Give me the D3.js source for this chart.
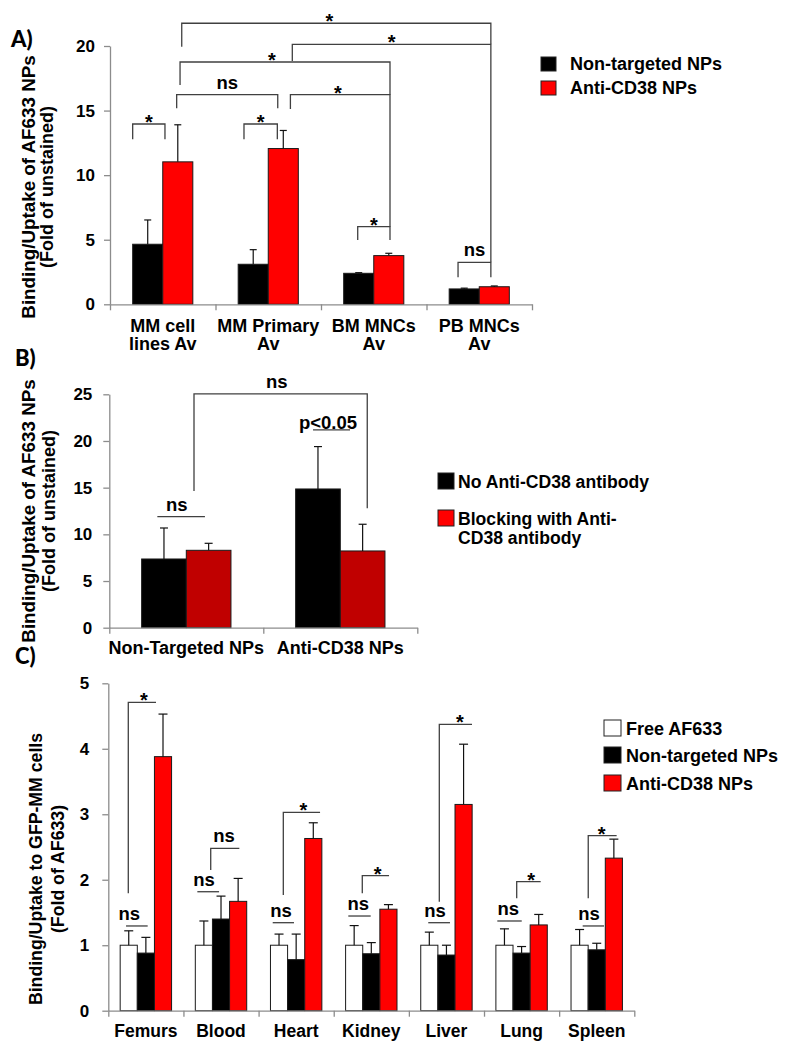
<!DOCTYPE html>
<html><head><meta charset="utf-8">
<script src="https://cdn.jsdelivr.net/npm/d3@7"></script>
<style>
body{margin:0;background:#fff}
text{font-family:"Liberation Sans",Arial,sans-serif;font-weight:bold;fill:#000}
</style>
</head><body><svg id="c" width="788" height="1050"></svg>
<script>
// ---------- DATA ----------
// Panel A
const catsA = [["MM cell","lines Av"],["MM Primary","Av"],["BM MNCs","Av"],["PB MNCs","Av"]];
const seriesA = ["Non-targeted NPs","Anti-CD38 NPs"];
const ntA = [4.65, 3.10, 2.40, 1.19];
const ntErrA = [1.88, 1.13, 0.05, 0.06];
const cd38A = [11.03, 12.06, 3.77, 1.36];
const cd38ErrA = [2.87, 1.40, 0.18, 0.06];
const ticksA = [0, 5, 10, 15, 20];
// significance brackets: x in category units, y / leg ends in value units
const sigA = [
  {x1:0.215, x2:0.521, y:13.96, l1:12.78, l2:12.78, label:"*"},
  {x1:1.270, x2:1.586, y:13.96, l1:12.78, l2:12.78, label:"*"},
  {x1:0.632, x2:1.590, y:16.23, l1:15.18, l2:15.18, label:"ns"},
  {x1:1.710, x2:2.654, y:16.23, l1:15.12, l2:6.01, label:"*", lx:2.16},
  {x1:2.348, x2:2.654, y:6.01, l1:4.98, l2:4.98, label:"*"},
  {x1:0.664, x2:2.654, y:18.76, l1:16.98, l2:16.23, label:"*", lx:1.535},
  {x1:1.728, x2:3.610, y:20.13, l1:18.84, l2:3.25, label:"*"},
  {x1:0.680, x2:3.610, y:21.76, l1:19.95, l2:20.13, label:"*", lx:2.08},
  {x1:3.299, x2:3.610, y:3.25, l1:2.09, l2:2.09, label:"ns"}
];
// Panel B
const catsB = [["Non-Targeted NPs"],["Anti-CD38 NPs"]];
const seriesB = ["No Anti-CD38 antibody","Blocking with Anti-CD38 antibody"];
const noAbB = [7.36, 14.86];
const noAbErrB = [3.32, 4.54];
const blockB = [8.29, 8.22];
const blockErrB = [0.75, 2.86];
const ticksB = [0, 5, 10, 15, 20, 25];
const sigB = [
  {x1:0.550, x2:1.675, y:25.04, l1:14.65, l2:12.79, label:"ns", lx:1.087},
  {x1:0.312, x2:0.621, y:11.89, l1:null, l2:null, label:"ns", lx:0.438},
  {x1:1.323, x2:1.563, y:21.18, l1:null, l2:null, label:"p<0.05", lx:1.42}
];
// Panel C
const catsC = [["Femurs"],["Blood"],["Heart"],["Kidney"],["Liver"],["Lung"],["Spleen"]];
const seriesC = ["Free AF633","Non-targeted NPs","Anti-CD38 NPs"];
const freeC = [1, 1, 1, 1, 1, 1, 1];
const freeErrC = [0.22, 0.37, 0.17, 0.30, 0.20, 0.25, 0.24];
const ntC = [0.88, 1.40, 0.78, 0.87, 0.85, 0.88, 0.93];
const ntErrC = [0.24, 0.35, 0.39, 0.17, 0.15, 0.10, 0.10];
const cd38C = [3.88, 1.67, 2.63, 1.55, 3.15, 1.31, 2.33];
const cd38ErrC = [0.65, 0.35, 0.24, 0.07, 0.92, 0.16, 0.29];
const ticksC = [0, 1, 2, 3, 4, 5];
const sigC = [
  {x1:0.236, x2:0.524, y:1.294, l1:null, l2:null, label:"ns", lx:0.28},
  {x1:0.266, x2:0.635, y:4.71, l1:1.793, l2:null, label:"*", lx:0.475},
  {x1:1.185, x2:1.474, y:1.817, l1:null, l2:null, label:"ns", lx:1.274},
  {x1:1.363, x2:1.744, y:2.48, l1:2.149, l2:null, label:"ns", lx:1.54},
  {x1:2.188, x2:2.471, y:1.344, l1:null, l2:null, label:"ns", lx:2.298},
  {x1:2.329, x2:2.818, y:3.03, l1:1.767, l2:null, label:"*", lx:2.595},
  {x1:3.194, x2:3.492, y:1.446, l1:null, l2:null, label:"ns", lx:3.327},
  {x1:3.380, x2:3.736, y:2.062, l1:1.793, l2:null, label:"*", lx:3.585},
  {x1:4.258, x2:4.547, y:1.344, l1:null, l2:null, label:"ns", lx:4.347},
  {x1:4.405, x2:4.840, y:4.374, l1:1.665, l2:null, label:"*", lx:4.68},
  {x1:5.177, x2:5.502, y:1.37, l1:null, l2:null, label:"ns", lx:5.323},
  {x1:5.435, x2:5.754, y:1.97, l1:1.717, l2:null, label:"*", lx:5.626},
  {x1:6.313, x2:6.597, y:1.294, l1:null, l2:null, label:"ns", lx:6.397},
  {x1:6.387, x2:6.765, y:2.673, l1:1.717, l2:null, label:"*", lx:6.565}
];

// ---------- DRAWING ----------
const svg = d3.select("#c");
const AX = "#8c8c8c", BR = "#404040";

function panel(cfg){
  const g = svg.append("g");
  const n = cfg.cats.length;
  const y = d3.scaleLinear().domain([0, d3.max(cfg.ticks)]).range([cfg.yB, cfg.yT]);
  const xb = d3.scaleBand().domain(d3.range(n)).range([cfg.x0, cfg.x1]);
  const bw = xb.bandwidth();
  const xi = d3.scaleBand().domain(d3.range(cfg.values.length)).range([bw*cfg.pad, bw*(1-cfg.pad)]);
  const xc = d3.scaleLinear().domain([0, n]).range([cfg.x0, cfg.x1]);

  cfg.values.forEach((vals, s) => {
    g.selectAll(null).data(vals).enter().append("rect")
      .attr("x", (d,i) => xb(i) + xi(s))
      .attr("y", d => y(d))
      .attr("width", xi.bandwidth())
      .attr("height", d => y(0) - y(d))
      .attr("fill", cfg.colors[s])
      .attr("stroke", "#1a1a1a").attr("stroke-width", 1);
    const errs = cfg.errors[s];
    vals.forEach((v, i) => {
      const cx = xb(i) + xi(s) + xi.bandwidth()/2;
      g.append("line").attr("x1", cx).attr("x2", cx)
        .attr("y1", y(v)).attr("y2", y(v + errs[i]))
        .attr("stroke", "#111").attr("stroke-width", 1.2);
      g.append("line").attr("x1", cx - cfg.cap).attr("x2", cx + cfg.cap)
        .attr("y1", y(v + errs[i])).attr("y2", y(v + errs[i]))
        .attr("stroke", "#111").attr("stroke-width", 1.2);
    });
  });

  const ya = g.append("g").attr("transform", `translate(${cfg.x0},0)`)
    .call(d3.axisLeft(y).tickValues(cfg.ticks).tickFormat(d3.format("d"))
      .tickSize(6).tickSizeOuter(0).tickPadding(cfg.tickPad));
  ya.selectAll("path,line").attr("stroke", AX).attr("stroke-width", 1.3);
  ya.selectAll("text").attr("font-size", 17).attr("fill", "#000")
    .style("font-family", '"Liberation Sans",Arial,sans-serif').style("font-weight", "bold");
  const xa = g.append("g").attr("transform", `translate(0,${cfg.yB})`)
    .call(d3.axisBottom(xc).tickValues(d3.range(n+1)).tickFormat("").tickSize(6).tickSizeOuter(0));
  xa.selectAll("path,line").attr("stroke", AX).attr("stroke-width", 1.3);

  cfg.cats.forEach((lines, i) => {
    lines.forEach((t, k) => {
      g.append("text").attr("x", xb(i) + bw/2).attr("y", cfg.catY + k*cfg.catGap)
        .attr("text-anchor", "middle").attr("font-size", cfg.catFont).text(t);
    });
  });

  cfg.sig.forEach(b => {
    let p = "";
    const X1 = xc(b.x1), X2 = xc(b.x2), Y = y(b.y);
    p += b.l1 != null ? `M${X1},${y(b.l1)}V${Y}` : `M${X1},${Y}`;
    p += `H${X2}`;
    if (b.l2 != null) p += `V${y(b.l2)}`;
    g.append("path").attr("d", p).attr("fill", "none").attr("stroke", BR).attr("stroke-width", 1.3);
    const lx = xc(b.lx != null ? b.lx : (b.x1 + b.x2)/2);
    if (b.label === "*") {
      g.append("text").attr("x", lx).attr("y", Y + 5).attr("text-anchor", "middle")
        .attr("font-size", 20).text("*");
    } else {
      const off = b.label.startsWith("p") ? 1 : 6;
      g.append("text").attr("x", lx).attr("y", Y - off).attr("text-anchor", "middle")
        .attr("font-size", 18.5).text(b.label);
    }
  });
}

function ylabel(lines, xs, cy, fss){
  lines.forEach((t, k) => {
    svg.append("text").attr("transform", `translate(${xs[k]},${cy}) rotate(-90)`)
      .attr("text-anchor", "middle").attr("dy", "0.35em").attr("font-size", fss[k]).text(t);
  });
}

function legend(items, x, tops, w, h, font, textX, gap){
  items.forEach((it, k) => {
    svg.append("rect").attr("x", x).attr("y", tops[k]).attr("width", w).attr("height", h)
      .attr("fill", it.color).attr("stroke", "#222").attr("stroke-width", 1);
    it.lines.forEach((t, j) => {
      svg.append("text").attr("x", textX).attr("y", tops[k] + h - 1 + j*gap)
        .attr("font-size", font).text(t);
    });
  });
}

function letter(t, x, y){
  svg.append("text").attr("x", x).attr("y", y).attr("font-size", 22)
    .style("font-family", 'Lato,"Open Sans",sans-serif').style("font-weight", "900").text(t);
}

// Panel A
panel({cats: catsA, values: [ntA, cd38A], errors: [ntErrA, cd38ErrA], colors: ["#000000", "#ff0000"],
  ticks: ticksA, x0: 110, x1: 532, yB: 304.3, yT: 46, pad: 0.215, cap: 3.5, tickPad: 9,
  catY: 331.5, catGap: 18.5, catFont: 18, sig: sigA});
letter("A)", 11, 47);
ylabel(["Binding/Uptake of AF633 NPs", "(Fold of unstained)"], [28.5, 46.5], 187, [18.8, 18]);
legend([{color:"#000000", lines:[seriesA[0]]}, {color:"#ff0000", lines:[seriesA[1]]}],
  541, [57, 81], 15, 14, 18, 570, 18);

// Panel B
panel({cats: catsB, values: [noAbB, blockB], errors: [noAbErrB, blockErrB], colors: ["#000000", "#c00000"],
  ticks: ticksB, x0: 109.3, x1: 417.3, yB: 627.7, yT: 394.3, pad: 0.21, cap: 4, tickPad: 11,
  catY: 654, catGap: 18, catFont: 18, sig: sigB});
letter("B)", 15, 366);
ylabel(["Binding/Uptake of AF633 NPs", "(Fold of unstained)"], [28.5, 49], 511, [18.8, 18]);
legend([{color:"#000000", lines:[seriesB[0]]}, {color:"#ff0000", lines:["Blocking with Anti-", "CD38 antibody"]}],
  438, [473, 510], 16, 16, 17.6, 458, 18.7);

// Panel C
panel({cats: catsC, values: [freeC, ntC, cd38C], errors: [freeErrC, ntErrC, cd38ErrC],
  colors: ["#ffffff", "#000000", "#ff0000"],
  ticks: ticksC, x0: 108.3, x1: 634.3, yB: 1010.7, yT: 683.3, pad: 0.158, cap: 4.5, tickPad: 13,
  catY: 1037, catGap: 18, catFont: 17.5, sig: sigC});
letter("C)", 15, 664);
ylabel(["Binding/Uptake to GFP-MM cells", "(Fold of AF633)"], [36, 57.5], 869, [17.7, 17.7]);
legend([{color:"#ffffff", lines:[seriesC[0]]}, {color:"#000000", lines:[seriesC[1]]}, {color:"#ff0000", lines:[seriesC[2]]}],
  604, [720, 747, 775], 17, 16, 18, 626, 18);
</script></body></html>
